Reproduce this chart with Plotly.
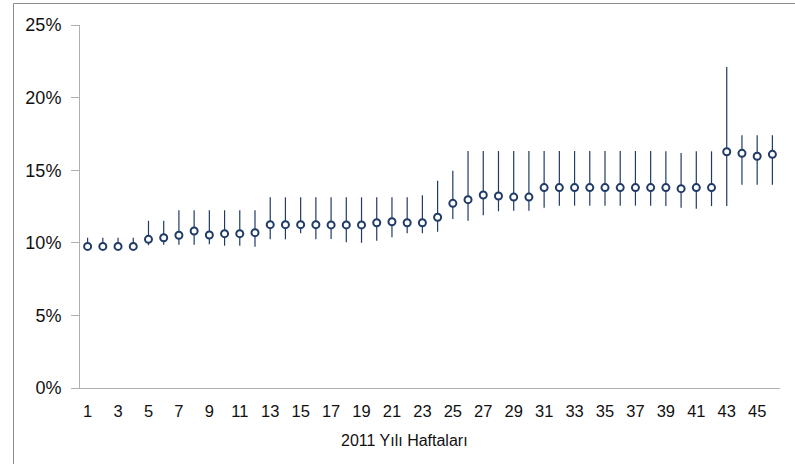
import plotly.graph_objects as go

weeks = list(range(1, 47))
mid = [9.75, 9.75, 9.75, 9.75, 10.24, 10.35, 10.52, 10.81, 10.54, 10.63,
       10.63, 10.70, 11.25, 11.25, 11.25, 11.25, 11.23, 11.23, 11.23, 11.38,
       11.45, 11.38, 11.38, 11.76, 12.72, 12.97, 13.29, 13.22, 13.15, 13.15,
       13.80, 13.80, 13.80, 13.80, 13.80, 13.80, 13.80, 13.80, 13.80, 13.73,
       13.80, 13.80, 16.27, 16.16, 15.96, 16.09]
high = [10.35, 10.35, 10.35, 10.35, 11.52, 11.52, 12.24, 12.24, 12.24, 12.24,
        12.24, 12.24, 13.13, 13.13, 13.13, 13.13, 13.13, 13.13, 13.13, 13.13,
        13.13, 13.13, 13.27, 14.28, 14.97, 16.32, 16.32, 16.32, 16.32, 16.32,
        16.32, 16.32, 16.32, 16.32, 16.32, 16.32, 16.32, 16.32, 16.30, 16.18,
        16.30, 16.30, 22.10, 17.40, 17.40, 17.40]
low = [9.50, 9.50, 9.50, 9.50, 9.83, 9.87, 9.87, 9.87, 9.90, 9.80,
       9.80, 9.73, 10.24, 10.24, 10.65, 10.24, 10.26, 10.03, 10.00, 10.14,
       10.38, 10.65, 10.65, 10.76, 11.64, 11.52, 11.89, 12.17, 12.21, 12.21,
       12.42, 12.56, 12.56, 12.56, 12.56, 12.56, 12.56, 12.56, 12.53, 12.42,
       12.35, 12.53, 12.53, 14.00, 14.00, 14.00]
x_tick_labels = [str(w) for w in range(1, 46, 2)]
y_ticks = [0, 5, 10, 15, 20, 25]
x_title = "2011 Yılı Haftaları"

navy = "#1F3B66"
fig = go.Figure()
fig.add_trace(go.Scatter(
    x=weeks,
    y=[v / 100 for v in mid],
    mode="markers",
    marker=dict(symbol="circle", size=7, color="white",
                line=dict(color=navy, width=2)),
    error_y=dict(type="data", symmetric=False,
                 array=[(h - m) / 100 for h, m in zip(high, mid)],
                 arrayminus=[(m - l) / 100 for m, l in zip(mid, low)],
                 color=navy, thickness=1.2, width=0),
    showlegend=False,
))

W, H = 795, 464
ml, mr, mt, mb = 80, 15, 25, 76
pw, ph = W - ml - mr, H - mt - mb

def px_x(px):
    return (px - ml) / pw

def px_y(py):
    return (H - mb - py) / ph

fig.update_layout(
    width=W, height=H,
    margin=dict(l=ml, r=mr, t=mt, b=mb),
    paper_bgcolor="white", plot_bgcolor="white",
    font=dict(family="Liberation Sans, Arial, sans-serif", color="#111111"),
    xaxis=dict(
        range=[0.5, 46.5], tickmode="array",
        tickvals=[int(t) for t in x_tick_labels], ticktext=x_tick_labels,
        showgrid=False, zeroline=False, showline=True, linecolor="#B0B0B0",
        linewidth=1, ticks="", tickfont=dict(size=16.5),
        ticklabelstandoff=8,
    ),
    yaxis=dict(
        range=[0, 0.25], tickmode="array",
        tickvals=[t / 100 for t in y_ticks],
        ticktext=[f"{t}%" for t in y_ticks],
        showgrid=False, zeroline=False, showline=True, linecolor="#B0B0B0",
        linewidth=1, ticks="outside", ticklen=8, tickcolor="#B0B0B0",
        tickfont=dict(size=18), ticklabelstandoff=6,
    ),
    annotations=[dict(text=x_title, xref="paper", yref="paper",
                      x=px_x(404), y=px_y(440), xanchor="center",
                      yanchor="middle", showarrow=False,
                      font=dict(size=16))],
    shapes=[dict(type="rect", xref="paper", yref="paper",
                 x0=px_x(13.5), x1=px_x(800), y0=px_y(470), y1=px_y(3.5),
                 line=dict(color="#8C8C8C", width=1), layer="below")],
)

fig.write_html("out.html", config={"displayModeBar": False},
               post_script="document.body.style.margin='0';")
